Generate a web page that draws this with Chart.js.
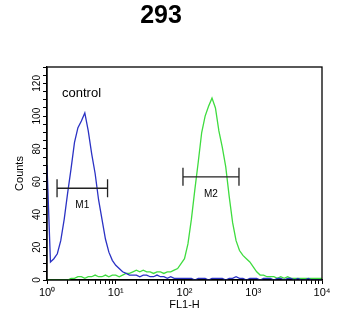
<!DOCTYPE html>
<html>
<head>
<meta charset="utf-8">
<script src="https://cdn.jsdelivr.net/npm/chart.js@4.4.1/dist/chart.umd.min.js"></script>
<style>
  html, body { margin: 0; padding: 0; background: #fff; }
  #wrap { width: 350px; height: 320px; }
</style>
</head>
<body>
<div id="wrap"><canvas id="histChart"></canvas></div>
<script>
// FL1-H channel positions, as powers of ten (10^0 .. 10^4)
const channelExp = [
  0.00, 0.05, 0.10, 0.15, 0.20, 0.25, 0.30, 0.35, 0.40, 0.45,
  0.50, 0.55, 0.60, 0.65, 0.70, 0.75, 0.80, 0.85, 0.90, 0.95,
  1.00, 1.05, 1.10, 1.15, 1.20, 1.25, 1.30, 1.35, 1.40, 1.45,
  1.50, 1.55, 1.60, 1.65, 1.70, 1.75, 1.80, 1.85, 1.90, 1.95,
  2.00, 2.05, 2.10, 2.15, 2.20, 2.25, 2.30, 2.35, 2.40, 2.45,
  2.50, 2.55, 2.60, 2.65, 2.70, 2.75, 2.80, 2.85, 2.90, 2.95,
  3.00, 3.05, 3.10, 3.15, 3.20, 3.25, 3.30, 3.35, 3.40, 3.45,
  3.50, 3.55, 3.60, 3.65, 3.70, 3.75, 3.80, 3.85, 3.90, 3.95,
  4.00
];
// counts, control (blue)
const controlCounts = [
  70, 11, 13, 16, 24, 37, 53, 68, 84, 93,
  97, 102, 91, 77, 65, 49, 37, 25, 17, 12,
  9, 7, 5, 4, 3, 3, 3, 2, 3, 3,
  2, 2, 3, 2, 2, 1, 2, 1, 1, 1,
  1, 1, 1, 0, 1, 1, 1, 0, 1, 1,
  1, 1, 0, 1, 1, 2, 1, 1, 0, 1,
  1, 1, 0, 1, 1, 1, 0, 1, 1, 0,
  1, 1, 0, 1, 0, 0, 1, 0, 0, 0,
  0
];
// counts, antibody (green)
const sampleCounts = [
  0, 0, 0, 0, 0, 0, 0, 1, 1, 2,
  2, 1, 2, 2, 3, 2, 2, 3, 2, 3,
  3, 2, 3, 4, 4, 5, 6, 5, 6, 5,
  5, 4, 5, 5, 4, 5, 5, 6, 7, 10,
  13, 22, 37, 55, 72, 90, 100, 106, 111, 105,
  91, 81, 69, 51, 35, 24, 18, 15, 13, 11,
  8, 5, 3, 3, 2, 2, 2, 1, 2, 1,
  2, 1, 1, 1, 1, 1, 1, 1, 1, 1,
  1
];

// marker gates
const gateNames = ['M1', 'M2'];
const gateLow = [1.4, 95];
const gateHigh = [7.6, 620];
const gateLevel = [56, 63];

// axis ticks
const xDecades = [1, 10, 100, 1000, 10000];
const xDecadeLabels = ['10\u2070', '10\u00b9', '10\u00b2', '10\u00b3', '10\u2074'];
const yLabelValues = [0, 20, 40, 60, 80, 100, 120];

const toPoints = counts => channelExp.map((e, i) => ({ x: Math.pow(10, e), y: counts[i] }));

const framePlugin = {
  id: 'framePlugin',
  afterDatasetsDraw(chart) {
    const { ctx, chartArea: a, scales: { x, y } } = chart;
    ctx.save();
    ctx.strokeStyle = '#000';
    ctx.lineWidth = 1.3;
    ctx.strokeRect(a.left, a.top, a.right - a.left, a.bottom - a.top);

    // "control" tag
    ctx.fillStyle = '#000';
    ctx.font = '13px "Liberation Sans", Arial, sans-serif';
    ctx.textAlign = 'left';
    ctx.textBaseline = 'middle';
    ctx.fillText('control', a.left + 15, a.top + 26);

    // gates
    ctx.strokeStyle = '#222';
    ctx.lineWidth = 1.3;
    ctx.font = '10px "Liberation Sans", Arial, sans-serif';
    ctx.textAlign = 'center';
    gateNames.forEach((name, i) => {
      const x0 = x.getPixelForValue(gateLow[i]);
      const x1 = x.getPixelForValue(gateHigh[i]);
      const yy = y.getPixelForValue(gateLevel[i]);
      ctx.beginPath();
      ctx.moveTo(x0, yy); ctx.lineTo(x1, yy);
      ctx.moveTo(x0, yy - 9); ctx.lineTo(x0, yy + 9);
      ctx.moveTo(x1, yy - 9); ctx.lineTo(x1, yy + 9);
      ctx.stroke();
      ctx.fillText(name, (x0 + x1) / 2, yy + 17);
    });
    ctx.restore();
  }
};

new Chart(document.getElementById('histChart').getContext('2d'), {
  type: 'line',
  data: {
    datasets: [{
      label: 'control',
      data: toPoints(controlCounts),
      borderColor: '#2b32c4',
      borderWidth: 1.3,
      pointRadius: 0,
      tension: 0,
      fill: false
    }, {
      label: '293',
      data: toPoints(sampleCounts),
      borderColor: '#3fdc3f',
      borderWidth: 1.3,
      pointRadius: 0,
      tension: 0,
      fill: false
    }]
  },
  options: {
    responsive: true,
    maintainAspectRatio: false,
    animation: false,
    layout: { padding: { left: 0, right: 28, top: 0, bottom: 0 } },
    plugins: {
      legend: { display: false },
      tooltip: { enabled: false },
      title: {
        display: true,
        text: '293',
        color: '#000',
        font: { family: '"Liberation Sans", Arial, sans-serif', size: 25, weight: 'bold' },
        padding: { top: 1, bottom: 36 }
      }
    },
    scales: {
      x: {
        type: 'logarithmic',
        min: 1,
        max: 10000,
        afterBuildTicks: s => {
          const t = [];
          xDecades.forEach((d, i) => {
            t.push({ value: d, major: true });
            if (i < xDecades.length - 1) {
              for (let k = 2; k <= 9; k++) t.push({ value: d * k, major: false });
            }
          });
          s.ticks = t;
        },
        afterFit: s => { s.height = 40; },
        ticks: {
          autoSkip: false,
          maxRotation: 0,
          padding: 2,
          color: '#000',
          font: { family: '"Liberation Sans", Arial, sans-serif', size: 11 },
          callback: v => {
            const i = xDecades.indexOf(v);
            return i >= 0 ? xDecadeLabels[i] : '';
          }
        },
        grid: { drawOnChartArea: false, tickLength: 4, color: '#000' },
        border: { color: '#000', width: 1.3 },
        title: {
          display: true,
          text: 'FL1-H',
          color: '#000',
          font: { family: '"Liberation Sans", Arial, sans-serif', size: 11 },
          padding: { top: 0, bottom: 8 }
        }
      },
      y: {
        min: 0,
        max: 130,
        afterBuildTicks: s => {
          const t = [];
          for (let v = 0; v <= 130; v += 5) t.push({ value: v });
          s.ticks = t;
        },
        afterFit: s => { s.width = 47; },
        ticks: {
          autoSkip: false,
          minRotation: 90,
          maxRotation: 90,
          crossAlign: 'center',
          padding: -3,
          color: '#000',
          font: { family: '"Liberation Sans", Arial, sans-serif', size: 10 },
          callback: v => yLabelValues.includes(v) ? String(v) : ''
        },
        grid: { drawOnChartArea: false, tickLength: 4, color: '#000' },
        border: { color: '#000', width: 1.3 },
        title: {
          display: true,
          text: 'Counts',
          color: '#000',
          font: { family: '"Liberation Sans", Arial, sans-serif', size: 11 },
          padding: { top: 13, bottom: 0 }
        }
      }
    }
  },
  plugins: [framePlugin]
});
</script>
</body>
</html>
